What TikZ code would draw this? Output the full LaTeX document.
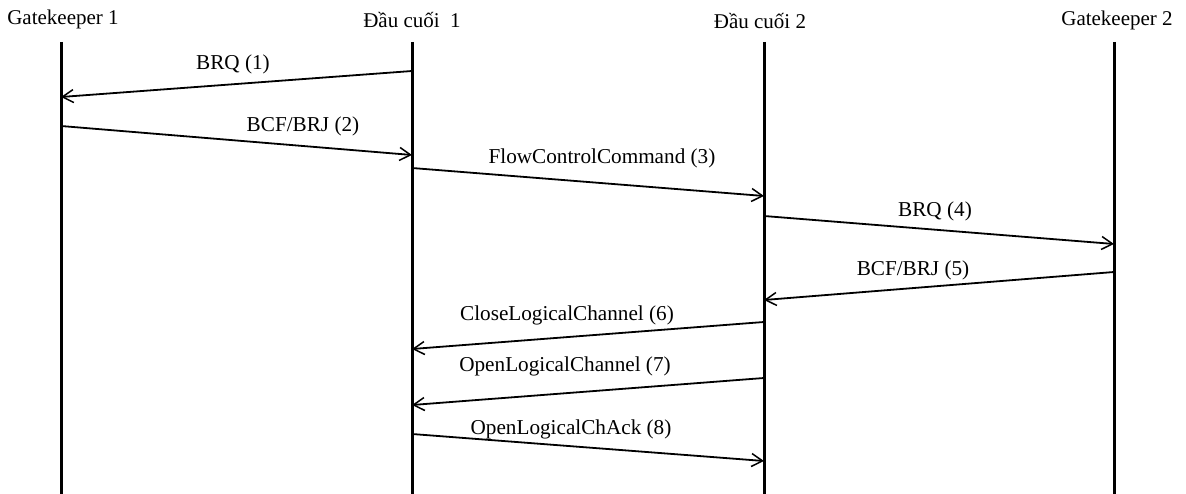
\documentclass[tikz,border=0pt]{standalone}
\usepackage{fontspec}
\setmainfont{Liberation Serif}
\usetikzlibrary{arrows.meta}
\tikzset{
  party/.style={inner sep=0pt, font=\fontsize{21}{24}\selectfont},
  lifeline/.style={line width=3pt},
  msg/.style={line width=1.8pt, -{Straight Barb[length=11pt,width=13pt,line width=1.5pt]}},
  msglabel/.style={inner sep=0pt, font=\fontsize{21.2}{24}\selectfont},
}
\begin{document}
\begin{tikzpicture}[x=1pt,y=-1pt]
\useasboundingbox (0,0) rectangle (1186,494);

% participants
\node[party] (gk1) at (63,19) {Gatekeeper 1};
\node[party] (t1)  at (412,20) {Đầu cuối~~1};
\node[party] (t2)  at (760,21) {Đầu cuối 2};
\node[party] (gk2) at (1117,20) {Gatekeeper 2};

% lifelines
\coordinate (gk1top) at (61,42);  \coordinate (gk1bot) at (61,494);
\coordinate (t1top)  at (412,42); \coordinate (t1bot)  at (412,494);
\coordinate (t2top)  at (764,42); \coordinate (t2bot)  at (764,494);
\coordinate (gk2top) at (1114,42);\coordinate (gk2bot) at (1114,494);
\draw[lifeline] (gk1top) -- (gk1bot);
\draw[lifeline] (t1top) -- (t1bot);
\draw[lifeline] (t2top) -- (t2bot);
\draw[lifeline] (gk2top) -- (gk2bot);

% message end points
\coordinate (m1a) at (412,71);  \coordinate (m1b) at (61,97);
\coordinate (m2a) at (61,126);  \coordinate (m2b) at (412,155);
\coordinate (m3a) at (412,168); \coordinate (m3b) at (764,196);
\coordinate (m4a) at (764,216); \coordinate (m4b) at (1114,244);
\coordinate (m5a) at (1114,272);\coordinate (m5b) at (764,300);
\coordinate (m6a) at (764,322); \coordinate (m6b) at (412,349);
\coordinate (m7a) at (764,378); \coordinate (m7b) at (412,405);
\coordinate (m8a) at (412,434); \coordinate (m8b) at (764,461);

\draw[msg] (m1a) -- (m1b);
\draw[msg] (m2a) -- (m2b);
\draw[msg] (m3a) -- (m3b);
\draw[msg] (m4a) -- (m4b);
\draw[msg] (m5a) -- (m5b);
\draw[msg] (m6a) -- (m6b);
\draw[msg] (m7a) -- (m7b);
\draw[msg] (m8a) -- (m8b);

% message labels
\node[msglabel] (l1) at (233,64)  {BRQ (1)};
\node[msglabel] (l2) at (303,126) {BCF/BRJ (2)};
\node[msglabel] (l3) at (602,158) {FlowControlCommand (3)};
\node[msglabel] (l4) at (935,211) {BRQ (4)};
\node[msglabel] (l5) at (913,270) {BCF/BRJ (5)};
\node[msglabel] (l6) at (567,315) {CloseLogicalChannel (6)};
\node[msglabel] (l7) at (565,366) {OpenLogicalChannel (7)};
\node[msglabel] (l8) at (571,429) {OpenLogicalChAck (8)};
\end{tikzpicture}
\end{document}
